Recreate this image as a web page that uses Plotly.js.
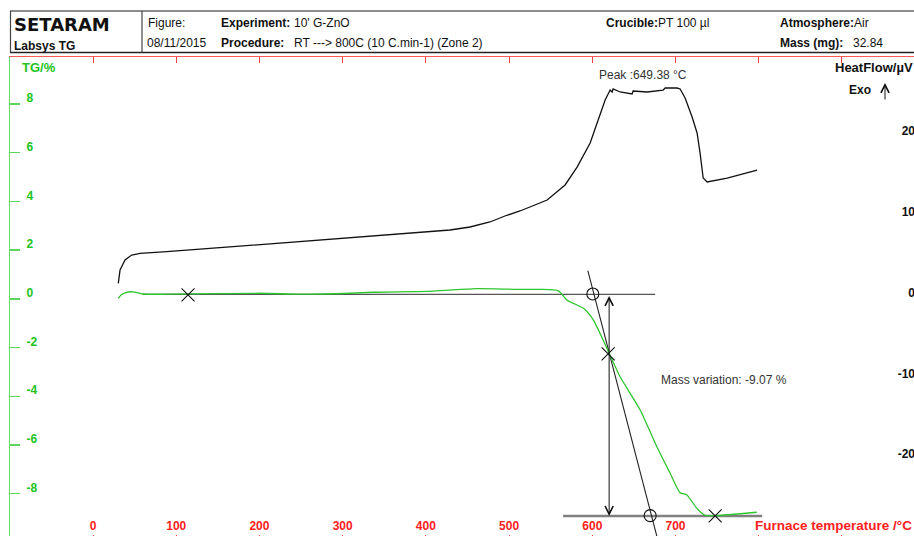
<!DOCTYPE html>
<html>
<head>
<meta charset="utf-8">
<script src="https://cdn.plot.ly/plotly-3.0.1.min.js"></script>
<style>
html,body{margin:0;padding:0;overflow:hidden;background:#fff;}
#chart{width:914px;height:542px;}
</style>
</head>
<body>
<div id="chart"></div>
<script>
// ---- Data ----
// Heat flow curve (black, right axis, µV) vs furnace temperature (°C)
const hfT = [30.4, 32.5, 38.5, 46.5, 56.5, 88.6, 168.3, 248.8, 329, 408.7, 429, 453, 477, 495, 513, 531, 545.7, 567.3, 581.7, 597.4, 607, 615.4, 621.4, 623.8, 625, 633.4, 647.8, 649, 665.9, 677.9, 685.1, 687.5, 693.5, 701.9, 705.5, 711.5, 719.9, 725.9, 729.5, 733.2, 738, 762, 798];
const hfV = [1.88, 3.53, 4.76, 5.38, 5.59, 5.79, 6.41, 7.03, 7.65, 8.27, 8.48, 8.85, 9.47, 10.21, 10.83, 11.57, 12.19, 14.05, 16.27, 19.25, 22.09, 24.57, 25.80, 25.56, 25.93, 25.56, 25.31, 25.68, 25.56, 25.68, 25.80, 26.05, 26.05, 26.05, 25.93, 24.81, 22.46, 20.48, 18.0, 14.91, 14.42, 14.91, 15.90];
// TG curve (green, left axis, %)
const tgT = [30.4, 33.7, 38.5, 48.1, 60.1, 88.6, 200.7, 248.8, 308.9, 336.5, 408.7, 461.2, 509.3, 537.3, 559.3, 569.4, 589.3, 601.3, 619.4, 633.4, 657.5, 677.5, 693.5, 705.5, 713.6, 725.6, 735.6, 747.6, 797.7];
const tgV = [0.02, 0.16, 0.25, 0.29, 0.20, 0.19, 0.23, 0.19, 0.23, 0.27, 0.32, 0.42, 0.39, 0.39, 0.33, -0.05, -0.39, -0.87, -2.17, -3.20, -4.56, -6.07, -7.16, -7.96, -8.05, -8.60, -8.89, -8.90, -8.76];
// Mass-variation construction
const baseTopT = [60.1, 675.5], baseTopTG = [0.18, 0.18];
const baseBotT = [564.9, 804.1], baseBotTG = [-8.91, -8.91];
const tangentT = [594.6, 681], tangentTG = [1.16, -10.2];
const crossT = [114.2, 619, 747.6], crossTG = [0.16, -2.26, -8.91];
const circleT = [600.6, 669.5], circleTG = [0.2, -8.9];
const arrowT = 620.2;
// Axis ticks
const xTicks = [0, 100, 200, 300, 400, 500, 600, 700, 800, 900];
const xTickText = ['0', '100', '200', '300', '400', '500', '600', '700', '', ''];
const tgTicks = [-8, -6, -4, -2, 0, 2, 4, 6, 8];
const tgTickText = ['-8', '-6', '-4', '-2', '0', '2', '4', '6', '8'];
const hfTicks = [-20, -10, 0, 10, 20];
const hfTickText = ['-20', '-10', '0', '10', '20'];
const peakText = 'Peak :649.38 °C';
const massText = 'Mass variation: -9.07 %';

// ---- Layout helpers (pixel -> paper) ----
const L = 10, R = 914, T = 57, B = 541;
const px = x => (x - L) / (R - L);
const py = y => (B - y) / (B - T);
const FONT = 'Liberation Sans, Arial, sans-serif';
const GREEN = '#22c322', RED = '#ff2020';

const traces = [
  {x: baseTopT, y: baseTopTG, mode: 'lines', line: {color: '#555', width: 1.3}, hoverinfo: 'skip'},
  {x: baseBotT, y: baseBotTG, mode: 'lines', line: {color: '#808080', width: 2.5}, hoverinfo: 'skip'},
  {x: tangentT, y: tangentTG, mode: 'lines', line: {color: '#222', width: 1.1}, hoverinfo: 'skip'},
  {x: tgT, y: tgV, mode: 'lines', line: {color: '#2ec52e', width: 1.3, shape: 'spline', smoothing: 0.6}},
  {x: hfT, y: hfV, yaxis: 'y2', mode: 'lines', line: {color: '#111', width: 1.3}},
  {x: crossT, y: crossTG, mode: 'markers', marker: {symbol: 'x-thin-open', size: 13, color: '#111', line: {color: '#111', width: 1.1}}},
  {x: circleT, y: circleTG, mode: 'markers', marker: {symbol: 'circle-open', size: 12, color: '#111', line: {color: '#111', width: 1.1}}}
];

function txt(text, x, y, opts) {
  return Object.assign({
    text: text, xref: 'paper', yref: 'paper', x: px(x - 2), y: py(y),
    xanchor: 'left', yanchor: 'middle', showarrow: false,
    font: {family: FONT, size: 12, color: '#111'}
  }, opts || {});
}
const bold = (s, c) => ({family: FONT, size: s, color: c || '#111', weight: 'bold'});

const annotations = [
  txt('SETARAM', 14, 24, {font: {family: 'DejaVu Sans, sans-serif', size: 18, color: '#111', weight: 'bold'}}),
  txt('Labsys TG', 14, 46, {font: bold(12)}),
  txt('Figure:', 148, 23),
  txt('Experiment:', 221, 23, {font: bold(12)}),
  txt("10' G-ZnO", 294, 23),
  txt('08/11/2015', 147, 43),
  txt('Procedure:', 221, 43, {font: bold(12)}),
  txt('RT ---> 800C (10 C.min-1) (Zone 2)', 294, 43),
  txt('<b>Crucible:</b>PT 100 µl', 606, 23),
  txt('<b>Atmosphere:</b>Air', 780, 23),
  txt('Mass (mg):', 780, 43, {font: bold(12)}),
  txt('32.84', 853, 43),
  txt('TG/%', 22, 68, {font: bold(13, GREEN)}),
  txt('HeatFlow/µV', 835, 68, {font: bold(13)}),
  txt('Exo', 849, 90, {font: bold(12)}),
  {xref: 'paper', yref: 'paper', x: px(885), y: py(83), ax: 0, ay: 18, text: '', showarrow: true,
   arrowhead: 5, arrowsize: 1.6, arrowwidth: 1, arrowcolor: '#111'},
  txt(peakText, 645, 75, {xanchor: 'center', font: {family: FONT, size: 12, color: '#333'}}),
  txt(massText, 661, 380, {font: {family: FONT, size: 12, color: '#333'}}),
  txt('Furnace temperature /°C', 755, 525, {font: bold(13.5, RED)}),
  {xref: 'x', yref: 'y', axref: 'x', ayref: 'y', x: arrowT, y: baseBotTG[0], ax: arrowT, ay: baseTopTG[0],
   text: '', showarrow: true, arrowside: 'end+start', arrowhead: 5, startarrowhead: 5,
   arrowsize: 1.6, startarrowsize: 1.6, arrowwidth: 1, arrowcolor: '#111'}
];

const hl = (x0, x1, y, c, w) => ({type: 'line', xref: 'paper', yref: 'paper', x0: px(x0), x1: px(x1), y0: py(y), y1: py(y), line: {color: c, width: w}});
const vl = (x, y0, y1, c, w) => ({type: 'line', xref: 'paper', yref: 'paper', x0: px(x), x1: px(x), y0: py(y0), y1: py(y1), line: {color: c, width: w}});
const shapes = [
  hl(10, 914, 11, '#666', 1.5),
  hl(10, 914, 52.5, '#222', 1.5),
  vl(10.5, 11, 52.5, '#444', 1.2),
  vl(142, 11, 52.5, '#444', 1.2)
];

const layout = {
  width: 914, height: 542,
  margin: {l: L, r: 914 - R, t: T, b: 542 - B, pad: 0},
  paper_bgcolor: '#fff', plot_bgcolor: '#fff',
  showlegend: false,
  font: {family: FONT},
  xaxis: {
    range: [(L - 93) / 0.8322, (R - 93) / 0.8322],
    tickvals: xTicks, ticktext: xTickText,
    ticks: 'inside', ticklen: 6, tickwidth: 1, tickcolor: '#ff4040',
    showline: true, linecolor: '#ff5a5a', linewidth: 1.5, mirror: 'ticks',
    ticklabelposition: 'inside', ticklabelstandoff: 2, tickfont: bold(12, RED),
    showgrid: false, zeroline: false
  },
  yaxis: {
    range: [(298.85 - B) / 24.36, (298.85 - T) / 24.36],
    tickvals: tgTicks, ticktext: tgTickText,
    ticks: 'inside', ticklen: 10, tickwidth: 1.5, tickcolor: '#5cd65c',
    showline: true, linecolor: '#66dd66', linewidth: 1.5,
    ticklabelposition: 'inside', ticklabelshift: -6, ticklabelstandoff: 6,
    tickfont: bold(12, GREEN),
    showgrid: false, zeroline: false
  },
  yaxis2: {
    overlaying: 'y', side: 'right',
    range: [(298.5 - B) / 8.08, (298.5 - T) / 8.08],
    tickvals: hfTicks, ticktext: hfTickText, ticks: '', showline: false,
    ticklabelposition: 'inside', ticklabelshift: -6, ticklabelstandoff: -4,
    tickfont: bold(12, '#111'),
    showgrid: false, zeroline: false
  },
  annotations: annotations,
  shapes: shapes
};

Plotly.newPlot('chart', traces, layout, {staticPlot: true, displayModeBar: false});
</script>
</body>
</html>
